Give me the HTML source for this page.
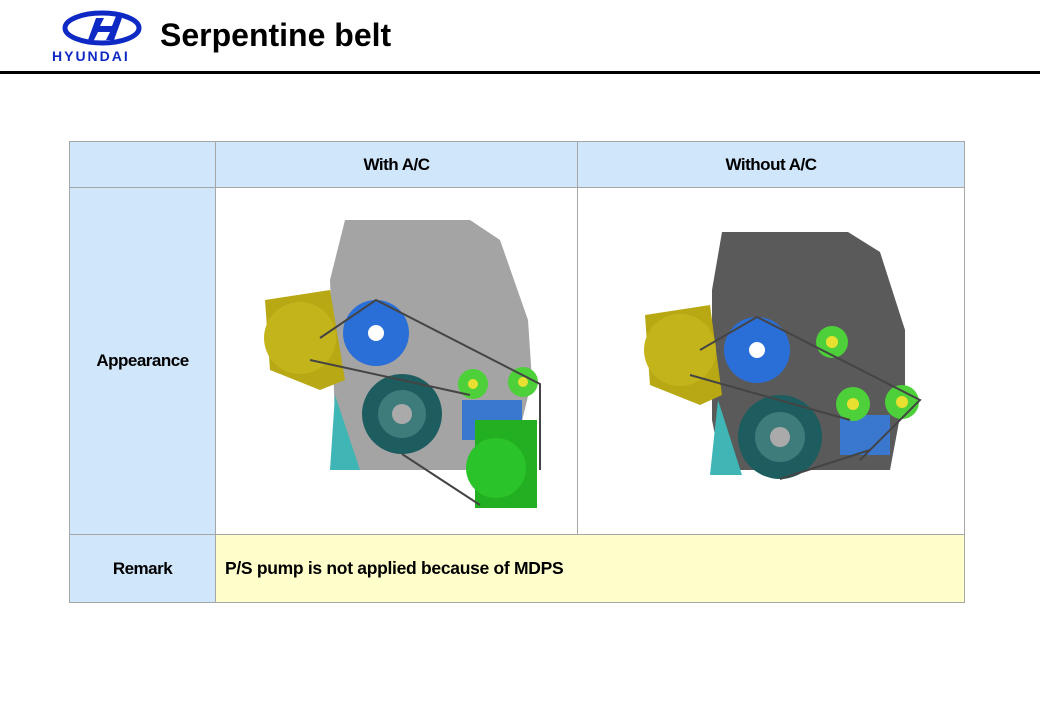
<!DOCTYPE html>
<html><head><style>
body{margin:0;width:1040px;height:720px;background:#fff;position:relative;overflow:hidden;font-family:"Liberation Sans",Arial,sans-serif}
.t{position:absolute;left:160px;top:17px;font-size:32px;font-weight:bold;color:#000}
.line{position:absolute;left:0;top:71px;width:1040px;height:3px;background:#000}
table{position:absolute;left:69px;top:141px;border-collapse:collapse}
td{border:1px solid #a6a6a6;font-size:17px;font-weight:bold;text-align:center;padding:0;letter-spacing:-0.5px}
.b{background:#cfe6fb}
</style></head><body>
<svg style="position:absolute;left:50px;top:10px" width="106" height="55">
<ellipse cx="52" cy="18" rx="37" ry="15" fill="none" stroke="#0e29c4" stroke-width="5"/>
<path d="M38 30 L46 8 L54 8 L50 16 L62 16 L66 6 L72 8 L64 30 L56 30 L60 22 L48 22 L44 30Z" fill="#0e29c4"/>
<text x="2" y="51" font-size="14" font-weight="bold" fill="#0e29c4" font-family="Liberation Sans" letter-spacing="2">HYUNDAI</text>
</svg>
<div class="t">Serpentine belt</div>
<div class="line"></div>
<table>
<tr style="height:46px"><td class="b" style="width:145px"></td><td class="b" style="width:361px">With A/C</td><td class="b" style="width:386px">Without A/C</td></tr>
<tr style="height:347px"><td class="b">Appearance</td><td></td><td></td></tr>
<tr style="height:68px"><td class="b">Remark</td><td colspan="2" style="background:#ffffcc;text-align:left;padding-left:9px;font-size:17.5px;letter-spacing:-0.3px">P/S pump is not applied because of MDPS</td></tr>
</table>
<svg style="position:absolute;left:0;top:0" width="1040" height="720">
<g>
<path d="M345 220 L470 220 L500 240 L528 320 L532 380 L510 470 L345 470 L335 420 L330 280Z" fill="#a4a4a4"/>
<path d="M335 395 L360 470 L330 470Z" fill="#3fb5b5"/>
<polygon points="265,300 330,290 345,380 320,390 270,370" fill="#b8a814"/>
<circle cx="300" cy="338" r="36" fill="#c4b41c"/>
<circle cx="376" cy="333" r="33" fill="#2a6fd8"/><circle cx="376" cy="333" r="8" fill="#fff"/>
<circle cx="402" cy="414" r="40" fill="#1e5d5f"/><circle cx="402" cy="414" r="24" fill="#3e7c7c"/><circle cx="402" cy="414" r="10" fill="#aaa"/>
<circle cx="473" cy="384" r="15" fill="#4ed03a"/><circle cx="473" cy="384" r="5" fill="#e8e030"/>
<circle cx="523" cy="382" r="15" fill="#4ed03a"/><circle cx="523" cy="382" r="5" fill="#e8e030"/>
<rect x="462" y="400" width="60" height="40" fill="#3a78d0"/>
<rect x="475" y="420" width="62" height="88" fill="#22b022"/>
<circle cx="496" cy="468" r="30" fill="#2ac42a"/>
<path d="M320 338 L376 300 L540 384 L540 470 M310 360 L470 395 M402 454 L480 505" stroke="#444" stroke-width="2" fill="none"/>
</g>
<g>
<path d="M722 232 L848 232 L880 252 L905 330 L905 390 L890 470 L722 470 L712 420 L712 290Z" fill="#5a5a5a"/>
<path d="M718 400 L742 475 L710 475Z" fill="#3fb5b5"/>
<polygon points="645,315 710,305 722,395 700,405 650,385" fill="#b8a814"/>
<circle cx="680" cy="350" r="36" fill="#c4b41c"/>
<circle cx="757" cy="350" r="33" fill="#2a6fd8"/><circle cx="757" cy="350" r="8" fill="#fff"/>
<circle cx="832" cy="342" r="16" fill="#4ed03a"/><circle cx="832" cy="342" r="6" fill="#e8e030"/>
<circle cx="780" cy="437" r="42" fill="#1e5d5f"/><circle cx="780" cy="437" r="25" fill="#3e7c7c"/><circle cx="780" cy="437" r="10" fill="#aaa"/>
<rect x="840" y="415" width="50" height="40" fill="#3a78d0"/>
<circle cx="853" cy="404" r="17" fill="#4ed03a"/><circle cx="853" cy="404" r="6" fill="#e8e030"/>
<circle cx="902" cy="402" r="17" fill="#4ed03a"/><circle cx="902" cy="402" r="6" fill="#e8e030"/>
<path d="M700 350 L757 317 L920 400 L860 460 M690 375 L850 420 M780 479 L870 450" stroke="#444" stroke-width="2" fill="none"/>
</g>
</svg>
</body></html>
